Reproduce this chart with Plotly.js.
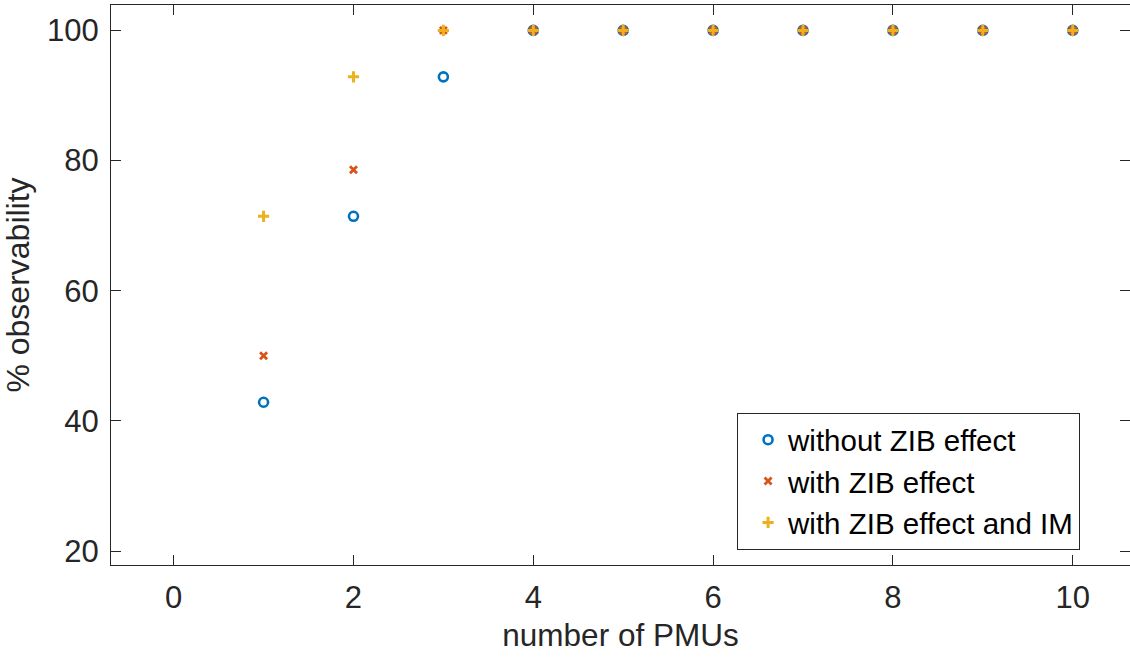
<!DOCTYPE html>
<html>
<head>
<meta charset="utf-8">
<script src="https://cdn.plot.ly/plotly-3.0.1.min.js"></script>
<style>
html,body{margin:0;padding:0;background:#fff;overflow:hidden;}
#chart{width:1130px;height:662px;}
</style>
</head>
<body>
<div id="chart"></div>
<script>
// Data
const pmus = [1, 2, 3, 4, 5, 6, 7, 8, 9, 10];
const withoutZIB = [42.86, 71.43, 92.86, 100, 100, 100, 100, 100, 100, 100];
const withZIB = [50.0, 78.57, 100, 100, 100, 100, 100, 100, 100, 100];
const withZIBandIM = [71.43, 92.86, 100, 100, 100, 100, 100, 100, 100, 100];
const seriesNames = ['without ZIB effect', 'with ZIB effect', 'with ZIB effect and IM'];
const xTicks = [0, 2, 4, 6, 8, 10];
const yTicks = [20, 40, 60, 80, 100];

const FONT = 'Liberation Sans, Arial, Helvetica, sans-serif';
const AX = '#262626';

const traces = [
  {x: pmus, y: withoutZIB, name: seriesNames[0], type: 'scatter', mode: 'markers',
   marker: {symbol: 'circle-open', size: 9, color: '#0072BD', line: {width: 2.6, color: '#0072BD'}}},
  {x: pmus, y: withZIB, name: seriesNames[1], type: 'scatter', mode: 'markers',
   marker: {symbol: 'x-thin-open', size: 7, color: '#D95319', line: {width: 2.8, color: '#D95319'}}},
  {x: pmus, y: withZIBandIM, name: seriesNames[2], type: 'scatter', mode: 'markers',
   marker: {symbol: 'cross-thin-open', size: 8, color: '#EDB120', line: {width: 3, color: '#EDB120'}}}
];

const layout = {
  width: 1130, height: 662,
  margin: {l: 111, r: 0, t: 5, b: 97},
  paper_bgcolor: '#fff', plot_bgcolor: '#fff',
  font: {family: FONT, color: AX},
  showlegend: true,
  xaxis: {
    range: [-0.697, 10.637], tickvals: xTicks, ticktext: xTicks.map(String),
    ticks: 'inside', ticklen: 10, tickwidth: 1, tickcolor: AX,
    showline: true, linecolor: AX, linewidth: 1, mirror: 'ticks',
    showgrid: false, zeroline: false,
    tickfont: {size: 31, family: FONT, color: AX}, ticklabelstandoff: 5,
    title: {text: 'number of PMUs', font: {size: 31.5, family: FONT, color: AX}, standoff: 9}
  },
  yaxis: {
    range: [17.85, 103.9], tickvals: yTicks, ticktext: yTicks.map(String),
    ticks: 'inside', ticklen: 10, tickwidth: 1, tickcolor: AX,
    showline: true, linecolor: AX, linewidth: 1, mirror: 'ticks',
    showgrid: false, zeroline: false,
    tickfont: {size: 31, family: FONT, color: AX}, ticklabelstandoff: 5,
    title: {text: '% observability', font: {size: 32, family: FONT, color: AX}, standoff: 9}
  },
  legend: {
    x: 0.951, xanchor: 'right', y: 0.2714, yanchor: 'top',
    bgcolor: '#fff', bordercolor: AX, borderwidth: 1,
    font: {size: 29.5, family: FONT, color: '#000'},
    indentation: 10, tracegroupgap: 0
  }
};

Plotly.newPlot('chart', traces, layout, {displayModeBar: false, staticPlot: true});
</script>
</body>
</html>
